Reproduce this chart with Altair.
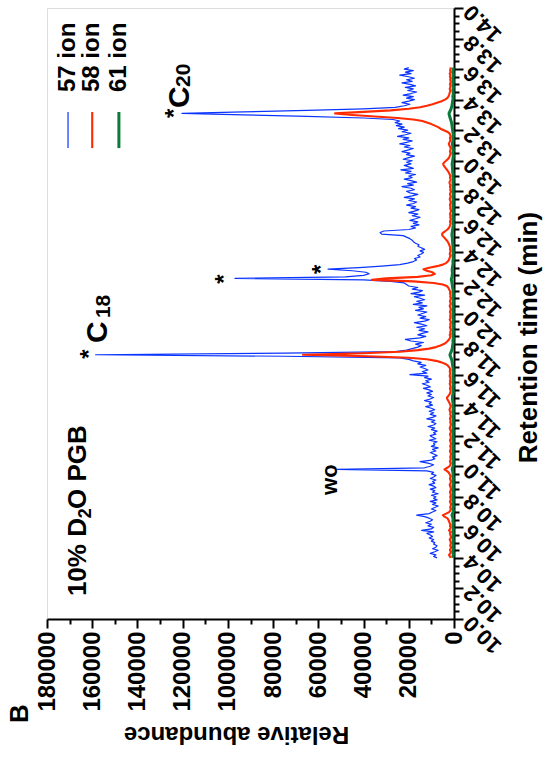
import altair as alt
import pandas as pd

# ---- data (abundance values in thousands of counts) ----
# retention-time sampling grid 10.40 ... 13.61 min, step 0.01
time = [round(10.40 + 0.01 * i, 2) for i in range(322)]

ion57 = [
    7.5, 9.0, 8.0, 10.5, 8.5, 7.0, 9.5, 8.0, 7.5, 9.0,
    8.5, 10.0, 9.0, 11.0, 9.5, 10.5, 12.0, 9.0, 14.3, 10.0,
    9.0, 11.5, 10.0, 12.5, 10.5, 9.5, 11.0, 13.0, 16.5, 11.0,
    9.5, 8.0, 10.0, 8.5, 7.0, 9.5, 8.0, 10.5, 7.5, 9.0,
    8.0, 10.0, 7.0, 9.5, 8.5, 10.5, 8.0, 9.0, 11.0, 8.5,
    9.5, 8.0, 10.5, 9.0, 8.0, 10.0, 9.0, 12.0, 51.7, 13.0,
    10.5, 9.0, 11.5, 15.0, 10.0, 8.5, 9.5, 7.5, 9.0, 10.5,
    8.0, 9.5, 7.0, 10.0, 8.5, 9.0, 7.5, 11.0, 8.0, 9.5,
    10.5, 8.0, 9.0, 7.5, 10.0, 8.5, 11.5, 9.0, 8.0, 10.0,
    8.5, 12.0, 9.5, 8.0, 10.5, 9.0, 11.0, 8.5, 10.0, 12.5,
    9.5, 11.0, 10.0, 13.0, 10.5, 9.0, 11.5, 10.0, 12.0, 9.5,
    11.0, 13.5, 10.5, 12.0, 14.0, 11.0, 12.5, 10.0, 13.0, 11.5,
    19.5, 12.0, 14.0, 11.5, 13.0, 15.0, 12.5, 16.0, 14.5, 18.0,
    20.0, 24.0, 75.0, 158.5, 75.0, 26.0, 21.0, 18.5, 16.0, 14.5,
    17.0, 13.5, 19.0, 21.5, 15.0, 12.5, 16.0, 14.0, 11.5, 15.5,
    13.0, 16.5, 12.0, 14.5, 17.5, 13.0, 11.0, 15.0, 12.5, 16.0,
    14.0, 12.0, 17.0, 13.5, 15.5, 12.0, 18.0, 14.0, 16.5, 13.0,
    15.0, 17.5, 13.0, 19.0, 15.5, 14.0, 18.5, 16.0, 20.0, 21.0,
    22.0, 28.0, 40.0, 96.9, 48.0, 40.0, 37.5, 39.0, 45.0, 55.7,
    42.0, 32.0, 24.0, 20.5, 18.0, 16.5, 17.5, 15.0, 16.0, 14.5,
    13.5, 15.0, 13.0, 14.5, 16.0, 15.5, 17.0, 18.0, 18.5, 19.5,
    21.0, 22.5, 32.0, 32.7, 31.0, 20.0, 17.0, 19.0, 15.5, 18.0,
    16.0, 19.5, 17.0, 15.0, 18.5, 16.0, 20.0, 17.5, 15.5, 19.0,
    17.0, 21.0, 18.0, 16.5, 20.0, 17.5, 22.0, 18.5, 16.0, 19.5,
    21.0, 17.5, 19.0, 23.0, 18.0, 20.5, 16.5, 19.0, 22.0, 18.5,
    20.0, 17.0, 21.5, 19.0, 23.5, 18.0, 20.0, 22.0, 19.0, 21.0,
    18.5, 22.5, 20.0, 17.5, 21.0, 19.5, 23.0, 20.5, 18.0, 22.0,
    19.5, 24.0, 21.0, 18.5, 22.5, 20.0, 25.0, 21.5, 19.0, 23.0,
    20.5, 24.5, 22.0, 25.5, 23.0, 26.0, 24.0, 27.0, 40.0, 65.0,
    93.0, 120.3, 93.0, 65.0, 40.0, 26.0, 22.0, 19.5, 23.0, 20.0,
    17.5, 21.0, 18.0, 22.5, 19.0, 16.5, 20.5, 18.0, 21.5, 17.0,
    19.5, 23.0, 18.5, 21.0, 17.5, 20.0, 24.0, 19.0, 21.5, 18.0,
    22.0, 20.0,
]

ion58 = [
    1.5, 1.8, 2.2, 1.6, 1.4, 1.8, 1.5, 1.3, 1.7, 1.5,
    1.4, 1.6, 1.9, 1.5, 1.3, 1.6, 1.8, 1.5, 2.2, 1.7,
    1.5, 1.8, 1.6, 2.0, 2.2, 2.5, 3.0, 4.2, 4.9, 3.5,
    2.2, 1.6, 1.4, 1.7, 1.5, 1.3, 1.6, 1.8, 1.4, 1.5,
    1.7, 1.4, 1.5, 1.8, 1.6, 1.3, 1.5, 1.7, 1.9, 1.5,
    1.4, 1.6, 1.8, 1.5, 1.7, 2.0, 2.4, 3.2, 4.2, 3.0,
    2.0, 1.6, 1.5, 1.8, 1.6, 1.4, 1.7, 1.5, 1.3, 1.6,
    1.8, 1.5, 1.4, 1.7, 1.5, 1.3, 1.6, 1.8, 1.5, 1.4,
    1.6, 1.8, 1.5, 1.3, 1.7, 1.9, 1.6, 1.4, 1.5, 1.7,
    1.5, 1.8, 1.6, 1.4, 1.7, 1.5, 1.8, 2.0, 1.7, 1.5,
    1.6, 1.9, 2.2, 2.6, 3.0, 3.1, 2.5, 2.0, 1.7, 1.5,
    1.6, 1.8, 1.5, 1.7, 1.9, 1.6, 1.8, 1.5, 1.7, 1.9,
    1.8, 1.6, 1.9, 1.7, 1.8, 2.2, 2.8, 3.8, 5.5, 8.0,
    12.0, 20.0, 38.0, 66.8, 40.0, 24.0, 16.0, 11.0, 8.0, 6.0,
    4.5, 3.5, 2.8, 2.2, 1.8, 1.6, 1.9, 1.5, 1.7, 1.4,
    1.6, 1.8, 1.5, 1.7, 1.4, 1.6, 1.9, 1.5, 1.7, 1.6,
    1.5, 1.8, 1.6, 1.4, 1.7, 1.9, 1.6, 1.5, 1.8, 1.6,
    1.4, 1.7, 1.5, 1.8, 1.6, 1.9, 2.2, 2.6, 3.2, 5.0,
    9.0, 18.0, 36.3, 30.0, 16.0, 10.0, 8.5, 9.5, 12.0, 13.5,
    11.0, 7.5, 5.0, 3.5, 2.8, 2.3, 2.0, 1.8, 1.6, 1.9,
    1.7, 1.5, 1.8, 1.6, 1.9, 2.1, 2.4, 2.8, 3.3, 3.9,
    4.5, 5.1, 5.3, 4.8, 3.8, 2.9, 2.3, 1.9, 1.7, 1.5,
    1.8, 1.6, 1.4, 1.7, 1.5, 1.8, 1.6, 1.3, 1.5, 1.7,
    1.5, 1.8, 1.6, 1.4, 1.7, 1.9, 1.6, 1.5, 1.8, 1.6,
    1.4, 1.7, 1.5, 1.8, 1.6, 1.9, 2.0, 1.7, 1.5, 1.8,
    1.6, 1.9, 2.2, 2.6, 3.1, 3.6, 4.1, 4.6, 4.8, 4.3,
    3.5, 2.8, 2.2, 1.9, 1.7, 1.5, 1.8, 1.6, 1.4, 1.7,
    2.0, 2.3, 2.0, 1.7, 1.6, 1.8, 1.5, 1.7, 2.0, 3.0,
    4.5, 6.0, 7.0, 8.5, 10.0, 12.0, 14.0, 18.0, 25.0, 35.0,
    45.0, 52.6, 40.0, 28.0, 20.0, 15.0, 12.0, 9.5, 7.5, 5.5,
    4.0, 3.0, 2.5, 2.2, 2.0, 1.8, 1.6, 1.9, 1.7, 1.5,
    1.8, 1.6, 1.4, 1.7, 1.5, 1.8, 1.6, 1.9, 1.5, 1.7,
    1.6, 1.4,
]

ion61 = [
    0.4, 0.5, 0.3, 0.4, 0.5, 0.4, 0.3, 0.5, 0.4, 0.4,
    0.5, 0.3, 0.4, 0.5, 0.4, 0.3, 0.4, 0.5, 0.4, 0.3,
    0.4, 0.5, 0.4, 0.3, 0.5, 0.4, 0.5, 0.7, 0.9, 0.6,
    0.4, 0.3, 0.5, 0.4, 0.3, 0.4, 0.5, 0.4, 0.3, 0.4,
    0.5, 0.4, 0.3, 0.4, 0.5, 0.3, 0.4, 0.5, 0.4, 0.3,
    0.4, 0.5, 0.3, 0.4, 0.5, 0.4, 0.5, 0.6, 0.8, 0.6,
    0.4, 0.3, 0.5, 0.4, 0.3, 0.4, 0.5, 0.4, 0.3, 0.4,
    0.5, 0.4, 0.3, 0.5, 0.4, 0.3, 0.4, 0.5, 0.4, 0.3,
    0.4, 0.5, 0.4, 0.3, 0.5, 0.4, 0.3, 0.4, 0.5, 0.4,
    0.3, 0.4, 0.5, 0.4, 0.3, 0.4, 0.5, 0.4, 0.3, 0.4,
    0.5, 0.4, 0.5, 0.6, 0.7, 0.7, 0.6, 0.5, 0.4, 0.3,
    0.4, 0.5, 0.4, 0.3, 0.4, 0.5, 0.4, 0.3, 0.4, 0.5,
    0.4, 0.3, 0.4, 0.5, 0.4, 0.5, 0.6, 0.7, 0.8, 0.9,
    1.1, 1.3, 1.6, 1.8, 1.5, 1.2, 1.0, 0.8, 0.7, 0.6,
    0.5, 0.4, 0.5, 0.4, 0.3, 0.4, 0.5, 0.4, 0.3, 0.4,
    0.5, 0.4, 0.3, 0.4, 0.5, 0.4, 0.3, 0.4, 0.5, 0.4,
    0.3, 0.4, 0.5, 0.4, 0.3, 0.4, 0.5, 0.4, 0.3, 0.4,
    0.5, 0.4, 0.3, 0.4, 0.5, 0.4, 0.5, 0.6, 0.7, 0.8,
    0.9, 1.0, 1.2, 1.1, 0.9, 0.8, 0.7, 0.7, 0.8, 0.8,
    0.7, 0.6, 0.5, 0.4, 0.5, 0.4, 0.3, 0.4, 0.5, 0.4,
    0.3, 0.4, 0.5, 0.4, 0.5, 0.5, 0.6, 0.6, 0.7, 0.7,
    0.8, 0.9, 0.9, 0.8, 0.7, 0.6, 0.5, 0.4, 0.3, 0.4,
    0.5, 0.4, 0.3, 0.4, 0.5, 0.4, 0.3, 0.4, 0.5, 0.4,
    0.3, 0.4, 0.5, 0.4, 0.3, 0.4, 0.5, 0.4, 0.3, 0.4,
    0.5, 0.4, 0.3, 0.4, 0.5, 0.4, 0.5, 0.4, 0.3, 0.4,
    0.5, 0.4, 0.5, 0.6, 0.6, 0.7, 0.7, 0.8, 0.8, 0.7,
    0.6, 0.5, 0.4, 0.3, 0.4, 0.5, 0.4, 0.3, 0.4, 0.5,
    0.6, 0.7, 0.6, 0.5, 0.4, 0.5, 0.4, 0.3, 0.4, 0.5,
    0.6, 0.7, 0.8, 0.9, 1.0, 1.1, 1.3, 1.5, 1.7, 1.9,
    2.1, 2.2, 1.9, 1.6, 1.3, 1.1, 0.9, 0.8, 0.7, 0.6,
    0.5, 0.4, 0.5, 0.4, 0.3, 0.4, 0.5, 0.4, 0.3, 0.4,
    0.5, 0.4, 0.3, 0.4, 0.5, 0.4, 0.3, 0.4, 0.5, 0.4,
    0.4, 0.5,
]

ions = ["57 ion", "58 ion", "61 ion"]
colors = ["#0a35ff", "#ff2a00", "#0b7a3b"]
widths = [1.2, 3.0, 1.2]

# tick values
x_ticks = [10000 * i for i in range(19)]                # 0 ... 180000
y_ticks = [round(10 + 0.05 * i, 2) for i in range(81)]  # 10.0 ... 14.0

# annotations (anchor at start of text, in data coordinates)
ann_text = ["C", "18", "C", "20", "wo", "10% D", "2", "O PGB"]
ann_a = [157450, 154800, 121200, 119400, 54800, 166300, 162800, 166300]
ann_t = [11.807, 11.97, 13.345, 13.483, 10.812, 10.15, 10.66, 10.72]
ann_size = [30, 21, 30, 21, 22, 26, 18, 26]

star_a = [161000, 101300, 58500, 123400]
star_t = [11.735, 12.226, 12.289, 13.31]

# legend (drawn rotated like the rest of the figure)
leg_a = [170700, 160000, 148200]
leg_t0 = [13.083, 13.083, 13.083]
leg_t1 = [13.319, 13.319, 13.319]
leg_label_t = [13.45, 13.45, 13.45]

# ---- build tables ----
rows = []
for name, vals in zip(ions, [ion57, ion58, ion61]):
    for t, v in zip(time, vals):
        rows.append({"t": t, "a": v * 1000, "ion": name})
df = pd.DataFrame(rows)

ann_df = pd.DataFrame({"text": ann_text, "a": ann_a, "t": ann_t, "size": ann_size})
star_df = pd.DataFrame({"a": star_a, "t": star_t, "text": ["*"] * 4})
leg_df = pd.DataFrame({"ion": ions, "a": leg_a, "t0": leg_t0, "t1": leg_t1,
                       "tl": leg_label_t})

FONT = "Liberation Sans"

xscale = alt.Scale(domain=[0, 180000], reverse=True, nice=False, zero=False)
yscale = alt.Scale(domain=[10, 14], nice=False, zero=False)
cscale = alt.Scale(domain=ions, range=colors)
wscale = alt.Scale(domain=ions, range=widths)

x_axis = alt.Axis(
    values=x_ticks, tickCount=500,
    labelExpr="datum.value % 20000 === 0 ? format(datum.value, 'd') : ''",
    tickSize={"condition": {"test": "datum.value % 20000 === 0", "value": 9}, "value": 5},
    labelAngle=270, labelAlign="right", labelBaseline="middle", labelPadding=3,
    labelFont=FONT, labelFontWeight="bold", labelFontSize=24, labelColor="black",
    labelOverlap=False, labelFlush=False, labelBound=False,
    tickColor="black", tickWidth=2, domainColor="black", domainWidth=2, grid=False,
    title="Relative abundance", titleAngle=180, titleFont=FONT, titleFontWeight="bold",
    titleFontSize=24, titleColor="black", titleX=189, titleY=114,
    titleAlign="center", titleBaseline="middle",
)

y_axis = alt.Axis(
    orient="right",
    values=y_ticks, tickCount=500,
    labelExpr="round(datum.value * 20) % 4 === 0 ? format(datum.value, '.1f') : ''",
    tickSize={"condition": {"test": "round(datum.value * 20) % 4 === 0", "value": 9}, "value": 5},
    labelAngle=225, labelAlign="right", labelBaseline="middle", labelPadding=4,
    labelFont=FONT, labelFontWeight="bold", labelFontSize=22, labelColor="black",
    labelOverlap=False, labelFlush=False, labelBound=False,
    tickColor="black", tickWidth=2, domainColor="black", domainWidth=2, grid=False,
    title="Retention time (min)", titleAngle=270, titleFont=FONT, titleFontWeight="bold",
    titleFontSize=26, titleColor="black", titleX=74, titleY=329,
    titleAlign="center", titleBaseline="middle",
)

lines = alt.Chart(df).mark_line(strokeJoin="round").encode(
    x=alt.X("a:Q", scale=xscale, axis=x_axis),
    y=alt.Y("t:Q", scale=yscale, axis=y_axis),
    color=alt.Color("ion:N", scale=cscale, legend=None),
    strokeWidth=alt.StrokeWidth("ion:N", scale=wscale, legend=None),
    order=alt.Order("t:Q"),
)

ann = alt.Chart(ann_df).mark_text(
    angle=270, align="left", baseline="middle", font=FONT, fontWeight="bold", color="black"
).encode(
    x=alt.X("a:Q", scale=xscale),
    y=alt.Y("t:Q", scale=yscale),
    text="text:N",
    size=alt.Size("size:Q", scale=None, legend=None),
)

stars = alt.Chart(star_df).mark_text(
    angle=270, align="center", baseline="middle", font=FONT, fontWeight="bold",
    fontSize=24, color="black"
).encode(
    x=alt.X("a:Q", scale=xscale),
    y=alt.Y("t:Q", scale=yscale),
    text="text:N",
)

leg_rules = alt.Chart(leg_df).mark_rule().encode(
    x=alt.X("a:Q", scale=xscale),
    y=alt.Y("t0:Q", scale=yscale),
    y2="t1:Q",
    color=alt.Color("ion:N", scale=cscale, legend=None),
    strokeWidth=alt.StrokeWidth("ion:N", scale=wscale, legend=None),
)

leg_text = alt.Chart(leg_df).mark_text(
    angle=270, align="left", baseline="middle", font=FONT, fontWeight="bold",
    fontSize=24, color="black"
).encode(
    x=alt.X("a:Q", scale=xscale),
    y=alt.Y("tl:Q", scale=yscale),
    text="ion:N",
)

chart = alt.layer(lines, ann, stars, leg_rules, leg_text).properties(
    width=407,
    height=611,
    autosize="none",
    padding={"left": 47, "top": 8, "right": 92, "bottom": 138},
    title=alt.TitleParams(
        text="B", orient="left", anchor="start", frame="group", angle=270,
        align="left", baseline="middle", font=FONT, fontWeight="bold",
        fontSize=26, color="black", dx=-104, dy=21, offset=10,
    ),
).configure_view(stroke="black", strokeWidth=2).configure_axis(
    labelOverlap=False
).configure(background="white")

chart.save("out.html", embed_options={"renderer": "svg", "actions": False})
